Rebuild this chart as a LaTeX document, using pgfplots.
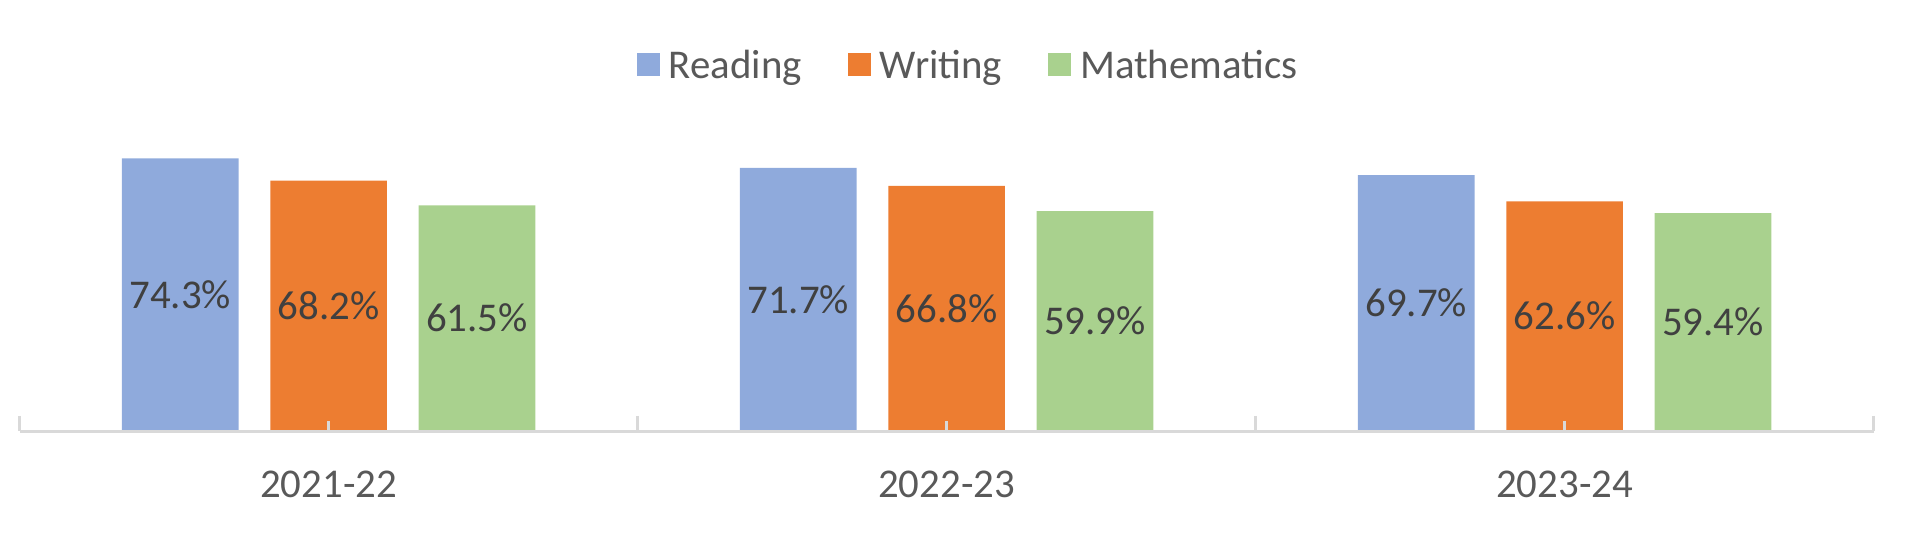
\documentclass[border=0pt]{standalone}
\usepackage{fontspec}
\setmainfont{Carlito}
\usepackage{pgfplots}
\pgfplotsset{compat=1.18}
\definecolor{cRead}{HTML}{8FAADC}
\definecolor{cWrite}{HTML}{ED7D31}
\definecolor{cMath}{HTML}{A9D18E}
\definecolor{cLab}{HTML}{404040}
\definecolor{cTxt}{HTML}{595959}
\definecolor{cAx}{HTML}{D9D9D9}
\begin{document}
\begin{tikzpicture}
\useasboundingbox (-9.8bp,-61.5bp) rectangle (952.2bp,215.5bp);
\begin{axis}[
  at={(0,0)}, anchor=south west,
  scale only axis,
  width=927bp, height=146.8bp,
  xmin=-0.5, xmax=2.5, ymin=0, ymax=80,
  clip=false,
  axis on top,
  axis x line=bottom, axis y line=none,
  x axis line style={draw=cAx, line width=1.5bp, -},
  xtick={0,1,2},
  xticklabels={2021-22,2022-23,2023-24},
  minor xtick={-0.5,0.5,1.5,2.5},
  major tick length=-5bp,
  minor tick length=-7.5bp,
  tick align=inside,
  tick style={draw=cAx, line width=1.25bp},
  minor tick style={draw=cAx, line width=1.25bp},
  /pgf/number format/assume math mode=true,
  xticklabel style={font=\fontsize{20.5}{24}\selectfont, text=cTxt, anchor=base, yshift=-38.4bp},
  ybar=15.9bp,
  bar width=58.3bp,
  visualization depends on={rawy \as \rawy},
  nodes near coords={\pgfmathprintnumber[fixed,precision=1,fixed zerofill]{\pgfplotspointmeta}\%},
  every node near coord/.append style={font=\fontsize{20.5}{24}\selectfont, text=cLab, anchor=center, yshift={-0.9175*\rawy*1bp}},
  legend style={at={(0.5123,1.2432)}, anchor=center, draw=none, fill=none,
    legend columns=3, font=\fontsize{20.5}{24}\selectfont, text=cTxt,
    /tikz/every even column/.append style={column sep=21.2bp},
    /tikz/every odd column/.append style={column sep=2.45bp},
    inner sep=0pt, outer sep=0pt},
  legend image code/.code={\fill[#1] (0bp,-5bp) rectangle (11.4bp,6.3bp);},
]
\addplot[fill=cRead, draw=none] coordinates {(0,74.3) (1,71.7) (2,69.7)};
\addplot[fill=cWrite, draw=none] coordinates {(0,68.2) (1,66.8) (2,62.6)};
\addplot[fill=cMath, draw=none] coordinates {(0,61.5) (1,59.9) (2,59.4)};
\legend{Reading,Writing,Mathematics}
\end{axis}
\end{tikzpicture}
\end{document}
